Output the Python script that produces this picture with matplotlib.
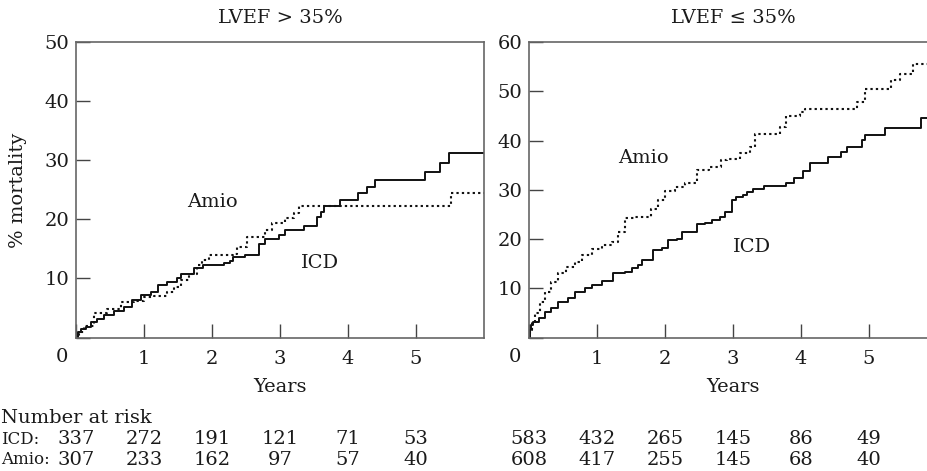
import matplotlib
matplotlib.use('Agg')
import matplotlib.pyplot as plt
import matplotlib.transforms as mtransforms

plt.rcParams['font.family'] = ['DejaVu Serif']
plt.rcParams['font.size'] = 13

# LVEF > 35%  (years, % mortality)
icd_hi_t = [0, 0.03, 0.07, 0.14, 0.22, 0.31, 0.41, 0.56, 0.71, 0.83, 0.95, 1.10, 1.20, 1.34,
            1.49, 1.54, 1.74, 1.87, 2.17, 2.26, 2.31, 2.48, 2.69, 2.78, 2.98, 3.07, 3.35, 3.54,
            3.61, 3.65, 3.88, 4.15, 4.28, 4.40, 5.13, 5.36, 5.49]
icd_hi_v = [0, 1.0, 1.5, 1.8, 2.7, 3.2, 3.8, 4.4, 5.2, 6.3, 7.2, 7.7, 8.9, 9.4,
            10.0, 10.8, 11.7, 12.2, 12.6, 13.0, 13.6, 14.0, 15.9, 16.6, 17.3, 18.2, 18.8, 20.4,
            21.3, 22.2, 23.2, 24.5, 25.5, 26.6, 28.0, 29.6, 31.2]
amio_hi_t = [0, 0.05, 0.12, 0.26, 0.46, 0.66, 0.85, 1.00, 1.15, 1.34, 1.44, 1.54, 1.66, 1.78,
             1.86, 1.96, 2.31, 2.37, 2.51, 2.78, 2.88, 3.05, 3.07, 3.20, 3.28, 5.52]
amio_hi_v = [0, 1.0, 2.0, 4.1, 4.9, 6.0, 6.2, 6.8, 7.0, 7.7, 8.6, 9.7, 10.8, 12.2,
             13.1, 13.9, 14.2, 15.3, 17.0, 18.2, 19.3, 19.6, 20.2, 21.0, 22.2, 24.5]

# LVEF <= 35%
icd_lo_t = [0, 0.01, 0.03, 0.06, 0.14, 0.24, 0.33, 0.43, 0.58, 0.68, 0.82, 0.92, 1.07, 1.24,
            1.41, 1.51, 1.61, 1.66, 1.83, 1.95, 2.05, 2.17, 2.25, 2.47, 2.59, 2.69, 2.81, 2.88,
            2.98, 3.05, 3.15, 3.20, 3.30, 3.45, 3.78, 3.89, 4.03, 4.13, 4.40, 4.59, 4.67, 4.89,
            4.94, 5.24, 5.76]
icd_lo_v = [0, 1.5, 2.5, 3.2, 3.9, 5.2, 5.9, 7.3, 8.0, 9.3, 10.0, 10.6, 11.5, 13.0,
            13.4, 14.2, 14.7, 15.7, 17.7, 18.1, 19.8, 20.1, 21.5, 23.0, 23.2, 23.8, 24.5, 25.5,
            27.9, 28.6, 28.9, 29.6, 30.1, 30.8, 31.4, 32.3, 33.8, 35.5, 36.7, 37.7, 38.6, 40.1,
            41.1, 42.6, 44.5]
amio_lo_t = [0, 0.02, 0.04, 0.09, 0.16, 0.24, 0.33, 0.43, 0.55, 0.68, 0.78, 0.92, 1.07, 1.22,
             1.31, 1.41, 1.56, 1.80, 1.90, 2.00, 2.15, 2.29, 2.47, 2.64, 2.83, 2.91, 3.10, 3.25,
             3.32, 3.69, 3.78, 3.99, 4.06, 4.82, 4.94, 5.33, 5.46, 5.65]
amio_lo_v = [0, 1.5, 3.2, 4.9, 7.3, 9.3, 11.3, 13.0, 14.4, 15.4, 16.7, 17.9, 18.8, 19.4,
             21.5, 24.2, 24.5, 26.0, 27.9, 29.8, 30.6, 31.3, 34.0, 34.6, 36.0, 36.3, 37.4, 38.7,
             41.3, 42.8, 44.9, 45.8, 46.3, 47.8, 50.5, 52.2, 53.6, 55.5]

# number at risk
risk_years = [0, 1, 2, 3, 4, 5]
icd_risk_hi = [337, 272, 191, 121, 71, 53]
amio_risk_hi = [307, 233, 162, 97, 57, 40]
icd_risk_lo = [583, 432, 265, 145, 86, 49]
amio_risk_lo = [608, 417, 255, 145, 68, 40]

W, H = 927, 471
fig = plt.figure(figsize=(W / 100, H / 100), dpi=100)

txt = '#1a1a1a'
spine_c = '#666666'
fs = 14


def panel(rect, xmax, ymax, title, curves, labels, risk):
    ax = fig.add_axes(rect)
    for t, v, ls in curves:
        ax.step(list(t) + [xmax], list(v) + [v[-1]], where='post', color='#111111',
                lw=1.4 if ls == '-' else 1.5, linestyle=ls)
    ax.set_xlim(0, xmax)
    ax.set_ylim(0, ymax)
    ax.set_xticks([0, 1, 2, 3, 4, 5])
    ax.set_xticklabels(['', '1', '2', '3', '4', '5'])
    ax.set_yticks(range(0, ymax + 1, 10))
    ax.set_yticklabels([''] + [str(v) for v in range(10, ymax + 1, 10)])
    ax.tick_params(direction='in', length=10, width=1, colors='#444444',
                   labelcolor=txt, labelsize=fs)
    ax.tick_params(axis='x', pad=9)
    ax.tick_params(axis='y', pad=5)
    for s in ax.spines.values():
        s.set_color(spine_c)
        s.set_linewidth(1.2)
    # text rows placed in figure pixels, x in data units
    tr = mtransforms.blended_transform_factory(ax.transData, fig.transFigure)
    ax.text(3, 1 - 18 / H, title, transform=tr, ha='center', va='center',
            fontsize=fs, color=txt)
    ax.text(3, 1 - 387 / H, 'Years', transform=tr, ha='center', va='center',
            fontsize=fs, color=txt)
    ax.text(-0.21, 1 - 357 / H, '0', transform=tr, ha='center', va='center',
            fontsize=fs, color=txt)
    for (x, y, s) in labels:
        ax.text(x, y, s, ha='center', va='center', fontsize=fs, color=txt)
    for row, yy in zip(risk, [439, 460]):
        for x, n in zip(risk_years, row):
            ax.text(x, 1 - yy / H, str(n), transform=tr, ha='center', va='center',
                    fontsize=fs, color=txt)
    return ax


dots = (0, (1.1, 1.5))
ax1 = panel([76 / W, 1 - 337.5 / H, 408 / W, 295.5 / H], 6.0, 50, 'LVEF > 35%',
            [(icd_hi_t, icd_hi_v, '-'), (amio_hi_t, amio_hi_v, dots)],
            [(2.0, 22.9, 'Amio'), (3.59, 12.6, 'ICD')],
            [icd_risk_hi, amio_risk_hi])
ax2 = panel([529 / W, 1 - 337.5 / H, 398 / W, 295.5 / H], 398 / 68, 60, 'LVEF ≤ 35%',
            [(icd_lo_t, icd_lo_v, '-'), (amio_lo_t, amio_lo_v, dots)],
            [(1.68, 36.4, 'Amio'), (3.28, 18.4, 'ICD')],
            [icd_risk_lo, amio_risk_lo])
ax2.spines['right'].set_visible(False)

fig.text(18 / W, 1 - 190 / H, '% mortality', rotation=90, ha='center', va='center',
         fontsize=fs, color=txt)
fig.text(1 / W, 1 - 418 / H, 'Number at risk', ha='left', va='center',
         fontsize=fs, color=txt)
fig.text(1 / W, 1 - 439 / H, 'ICD:', ha='left', va='center', fontsize=12, color=txt)
fig.text(1 / W, 1 - 460 / H, 'Amio:', ha='left', va='center', fontsize=12, color=txt)

fig.savefig('out.png', dpi=100)
